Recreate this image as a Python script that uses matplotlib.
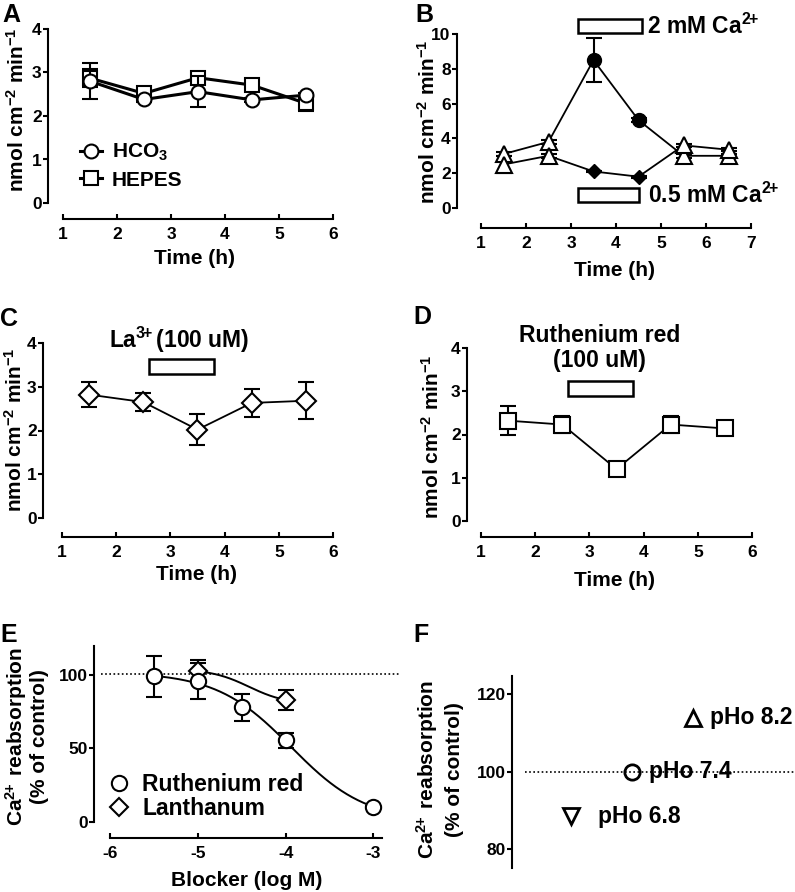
import matplotlib
matplotlib.use("Agg")
import matplotlib.pyplot as plt
from matplotlib.patches import Rectangle
import numpy as np

plt.rcParams['font.family'] = ['Liberation Sans', 'DejaVu Sans']
plt.rcParams['font.weight'] = 'bold'
plt.rcParams['axes.labelweight'] = 'bold'
plt.rcParams['mathtext.fontset'] = 'custom'
plt.rcParams['mathtext.rm'] = 'Liberation Sans:bold'
plt.rcParams['mathtext.it'] = 'Liberation Sans:bold'
plt.rcParams['mathtext.bf'] = 'Liberation Sans:bold'
plt.rcParams['mathtext.default'] = 'rm'
plt.rcParams['axes.unicode_minus'] = False

# ---------------- data ----------------
# Panel A
time_a = [1.5, 2.5, 3.5, 4.5, 5.5]
hco3 = [2.80, 2.38, 2.56, 2.37, 2.48]
hco3_err = [0.42, 0.05, 0.36, 0.05, 0.05]
hepes = [2.87, 2.52, 2.88, 2.71, 2.29]
hepes_err = [0.20, 0.05, 0.12, 0.05, 0.17]

# Panel B
time_b = [1.5, 2.5, 3.5, 4.5, 5.5, 6.5]
ca_high = [3.10, 3.80, 8.50, 5.05, 3.00, 3.00]
ca_high_err = [0.10, 0.10, 1.25, 0.10, 0.10, 0.10]
ca_high_treated = [False, False, True, True, False, False]
ca_low = [2.50, 3.00, 2.10, 1.80, 3.60, 3.35]
ca_low_err = [0.50, 0.10, 0.05, 0.05, 0.10, 0.10]
ca_low_treated = [False, False, True, True, False, False]

# Panel C
time_c = [1.5, 2.5, 3.5, 4.5, 5.5]
la = [2.82, 2.65, 2.02, 2.63, 2.68]
la_err = [0.28, 0.20, 0.36, 0.31, 0.42]

# Panel D
time_d = [1.5, 2.5, 3.5, 4.5, 5.5]
rured = [2.32, 2.23, 1.20, 2.23, 2.14]
rured_err = [0.33, 0.20, 0.05, 0.20, 0.10]

# Panel E
logc_rr = [-5.5, -5.0, -4.5, -4.0, -3.0]
pct_rr = [99.0, 96.0, 78.0, 55.5, 10.0]
pct_rr_err = [14.0, 12.5, 9.3, 5.3, 1.0]
logc_la = [-5.0, -4.0]
pct_la = [102.5, 83.0]
pct_la_err = [7.5, 6.8]
control_level_e = 101

# Panel F
ph_labels = ['pHo 6.8', 'pHo 7.4', 'pHo 8.2']
ph_pos = [1, 2, 3]
ph_pct = [88.5, 100.0, 114.0]
ph_markers = ['v', 'o', '^']
control_level_f = 100

# treatment bars
b_bar_time = (3.15, 4.57)
c_bar_time = (2.60, 3.80)
d_bar_time = (2.61, 3.80)

# ---------------- figure ----------------
W, H = 795, 892
fig = plt.figure(figsize=(W / 100, H / 100), dpi=100)

TICK = 12.5
LAB = 15
ANN = 16.5
SUP2 = '$^{2\\!\\!+}$'
SUP3 = '$^{3\\!\\!+}$'


def make_ax(box, xmap, ymap):
    l, r, t, b = box
    (xd0, xp0), (xd1, xp1) = xmap
    sx = (xp1 - xp0) / (xd1 - xd0)
    xlim = (xd0 + (l - xp0) / sx, xd0 + (r - xp0) / sx)
    (yd0, yp0), (yd1, yp1) = ymap
    sy = (yp1 - yp0) / (yd1 - yd0)
    ylim = (yd0 + (b - yp0) / sy, yd0 + (t - yp0) / sy)
    ax = fig.add_axes([l / W, 1 - b / H, (r - l) / W, (b - t) / H])
    ax.set_xlim(xlim)
    ax.set_ylim(ylim)
    ax.patch.set_alpha(0)
    for s in ['top', 'right']:
        ax.spines[s].set_visible(False)
    for s in ['left', 'bottom']:
        ax.spines[s].set_linewidth(1.5)
    ax.tick_params(axis='y', direction='out', length=3.5, width=1.5, pad=1, labelsize=TICK)
    ax.tick_params(axis='x', direction='in', length=3.5, width=1.5, pad=6, labelsize=TICK)
    return ax


def ftext(x, y, s, **kw):
    fig.text(x / W, 1 - y / H, s, fontweight='bold', **kw)


def panel_letter(x, y, s):
    ftext(x, y, s, fontsize=18, ha='left', va='top')


def ylab(x, y, s, ls=1.2):
    ftext(x, y, s, fontsize=LAB, rotation=90, ha='center', va='center',
          multialignment='center', linespacing=ls)


def xlab(x, y, s):
    ftext(x, y, s, fontsize=LAB, ha='center', va='center')


ebkw = dict(fmt='none', ecolor='k', elinewidth=1.5, capsize=6, capthick=1.5)

# ---- A ----
axA = make_ax((48, 333, 29, 219), ((1, 63), (6, 333)), ((0, 203), (4, 29)))
axA.errorbar(time_a, hepes, yerr=hepes_err, zorder=2, **ebkw)
axA.plot(time_a, hepes, '-s', color='k', lw=2.2, ms=10, mfc='white', mec='k', mew=1.5,
         zorder=3, label='HEPES')
axA.errorbar(time_a, hco3, yerr=hco3_err, zorder=4, **ebkw)
axA.plot(time_a, hco3, '-o', color='k', lw=2.2, ms=10, mfc='white', mec='k', mew=1.5,
         zorder=5, label='HCO$_3$')
axA.set_xticks(range(1, 7))
axA.set_yticks(range(0, 5))
axA.spines['left'].set_bounds(0, 4)
axA.spines['bottom'].set_bounds(1, 6)
h, l = axA.get_legend_handles_labels()
axA.legend(h[::-1], l[::-1], loc='lower left', bbox_to_anchor=(0.075, 0.10), frameon=False,
           borderpad=0, handlelength=1.05, handletextpad=0.5, labelspacing=0.35,
           prop={'size': 15, 'weight': 'bold'})
panel_letter(2, 3, 'A')
ylab(17, 110, 'nmol cm$^{-2}$ min$^{-1}$')
xlab(194, 259, 'Time (h)')

# ---- B ----
axB = make_ax((457, 751, 34, 228), ((1, 481), (7, 751)), ((0, 208), (10, 34)))
tb = np.array(time_b)
for vals, errs, treated, tmark in [(ca_high, ca_high_err, ca_high_treated, 'o'),
                                   (ca_low, ca_low_err, ca_low_treated, 'D')]:
    v = np.array(vals)
    m = np.array(treated)
    axB.errorbar(tb, v, yerr=errs, zorder=2, **ebkw)
    axB.plot(tb, v, '-', color='k', lw=1.3, zorder=3)
    axB.plot(tb[~m], v[~m], '^', ms=11, mfc='white', mec='k', mew=1.5, ls='none', zorder=4)
    if tmark == 'o':
        axB.plot(tb[m], v[m], 'o', ms=10, mfc='k', mec='k', ls='none', zorder=4)
    else:
        axB.plot(tb[m], v[m], 'D', ms=7, mfc='k', mec='k', ls='none', zorder=4)
axB.add_patch(Rectangle((b_bar_time[0], 10.05), b_bar_time[1] - b_bar_time[0], 0.8,
                        fc='white', ec='k', lw=1.8, clip_on=False))
axB.add_patch(Rectangle((b_bar_time[0], 0.33), b_bar_time[1] - b_bar_time[0] - 0.05, 0.8,
                        fc='white', ec='k', lw=1.8, clip_on=False))
axB.text(4.68, 10.42, '2 mM Ca' + SUP2, fontsize=ANN, fontweight='bold', ha='left',
         va='center', clip_on=False)
axB.text(4.70, 0.75, '0.5 mM Ca' + SUP2, fontsize=ANN, fontweight='bold', ha='left',
         va='center', clip_on=False)
axB.set_xticks(range(1, 8))
axB.set_yticks(range(0, 11, 2))
axB.spines['left'].set_bounds(0, 10)
axB.spines['bottom'].set_bounds(1, 7)
panel_letter(415, 3, 'B')
ylab(428, 122, 'nmol cm$^{-2}$ min$^{-1}$')
xlab(614, 271, 'Time (h)')

# ---- C ----
axC = make_ax((43, 333, 343, 537), ((1, 62), (6, 333)), ((0, 518), (4, 343)))
axC.errorbar(time_c, la, yerr=la_err, zorder=2, **ebkw)
axC.plot(time_c, la, '-D', color='k', lw=1.3, ms=10, mfc='white', mec='k', mew=1.5, zorder=3)
axC.add_patch(Rectangle((c_bar_time[0], 3.30), c_bar_time[1] - c_bar_time[0], 0.34,
                        fc='white', ec='k', lw=1.8, clip_on=False))
axC.text(3.17, 4.07, 'La' + SUP3 + '(100 uM)', fontsize=ANN, fontweight='bold', ha='center',
         va='center', clip_on=False)
axC.set_xticks(range(1, 7))
axC.set_yticks(range(0, 5))
axC.spines['left'].set_bounds(0, 4)
axC.spines['bottom'].set_bounds(1, 6)
panel_letter(0, 307, 'C')
ylab(15, 430, 'nmol cm$^{-2}$ min$^{-1}$')
xlab(196, 575, 'Time (h)')

# ---- D ----
axD = make_ax((467, 752, 348, 537), ((1, 481), (6, 752)), ((0, 521), (4, 348)))
axD.errorbar(time_d, rured, yerr=rured_err, zorder=2, **ebkw)
axD.plot(time_d, rured, '-s', color='k', lw=1.3, ms=11, mfc='white', mec='k', mew=1.5, zorder=3)
axD.add_patch(Rectangle((d_bar_time[0], 2.88), d_bar_time[1] - d_bar_time[0], 0.36,
                        fc='white', ec='k', lw=1.8, clip_on=False))
axD.text(3.18, 4.0, 'Ruthenium red\n(100 uM)', fontsize=ANN, fontweight='bold', ha='center',
         va='center', linespacing=1.15, clip_on=False)
axD.set_xticks(range(1, 7))
axD.set_yticks(range(0, 5))
axD.spines['left'].set_bounds(0, 4)
axD.spines['bottom'].set_bounds(1, 6)
panel_letter(413, 305, 'D')
ylab(432, 437, 'nmol cm$^{-2}$ min$^{-1}$')
xlab(614, 580, 'Time (h)')

# ---- E ----
axE = make_ax((94, 400, 645, 838), ((-6, 110.3), (-3, 373.3)), ((0, 821.7), (100, 675)))


def hill_fit(x, y, top, bottom):
    x = np.asarray(x, float)
    y = np.asarray(y, float)
    z = np.log10((top - bottom) / (y - bottom) - 1)
    slope, icpt = np.polyfit(x, z, 1)
    xs = np.linspace(x.min(), x.max(), 200)
    ys = bottom + (top - bottom) / (1 + 10 ** (slope * xs + icpt))
    return xs, ys


xs, ys = hill_fit(logc_rr, pct_rr, 102, 0)
axE.plot(xs, ys, '-', color='k', lw=1.4, zorder=3)
xs, ys = hill_fit(logc_la, pct_la, 104, 80)
axE.plot(xs, ys, '-', color='k', lw=1.4, zorder=3)
axE.axhline(control_level_e, xmin=0.023, xmax=1.0, color='k', lw=1.2, ls=(0, (1, 1.5)),
            zorder=1, clip_on=False)
axE.errorbar(logc_la, pct_la, yerr=pct_la_err, zorder=2, **ebkw)
axE.errorbar(logc_rr, pct_rr, yerr=pct_rr_err, zorder=2, **ebkw)
axE.plot(logc_la, pct_la, 'D', ls='none', ms=9, mfc='white', mec='k', mew=1.5, zorder=4,
         label='Lanthanum')
axE.plot(logc_rr, pct_rr, 'o', ls='none', ms=11, mfc='white', mec='k', mew=1.5, zorder=5,
         label='Ruthenium red')
axE.set_xticks(range(-6, -2))
axE.set_yticks([0, 50, 100])
axE.spines['left'].set_bounds(0, 120)
axE.spines['bottom'].set_bounds(-6, -2.9)
h, l = axE.get_legend_handles_labels()
axE.legend(h[::-1], l[::-1], loc='lower left', bbox_to_anchor=(0.008, 0.035), frameon=False,
           borderpad=0, handlelength=1.0, handletextpad=0.5, labelspacing=0.05,
           prop={'size': ANN, 'weight': 'bold'})
panel_letter(0, 623, 'E')
ylab(26, 737, 'Ca' + SUP2 + ' reabsorption\n(% of control)', ls=1.05)
xlab(247, 880, 'Blocker (log M)')

# ---- F ----
axF = make_ax((512, 795, 676, 868), ((1, 571), (3, 692.7)), ((100, 771.7), (120, 694.3)))
axF.spines['bottom'].set_visible(False)
axF.set_xticks([])
axF.set_yticks([80, 100, 120])
axF.axhline(control_level_f, xmin=0.046, xmax=1.0, color='k', lw=1.2, ls=(0, (1, 1.5)),
            zorder=1)
offsets = [19.5, 12.5, 12.5]
for xp, yv, mk, lbl, off in zip(ph_pos, ph_pct, ph_markers, ph_labels, offsets):
    axF.plot([xp], [yv], mk, ms=11, mfc='none', mec='k', mew=2, zorder=3, clip_on=False)
    axF.annotate(lbl, (xp, yv), xytext=(off, 0), textcoords='offset points',
                 fontsize=ANN, fontweight='bold', ha='left', va='center', annotation_clip=False)
panel_letter(413, 623, 'F')
ylab(439, 770, 'Ca' + SUP2 + ' reabsorption\n(% of control)', ls=1.35)

fig.savefig('out.png', dpi=100)
